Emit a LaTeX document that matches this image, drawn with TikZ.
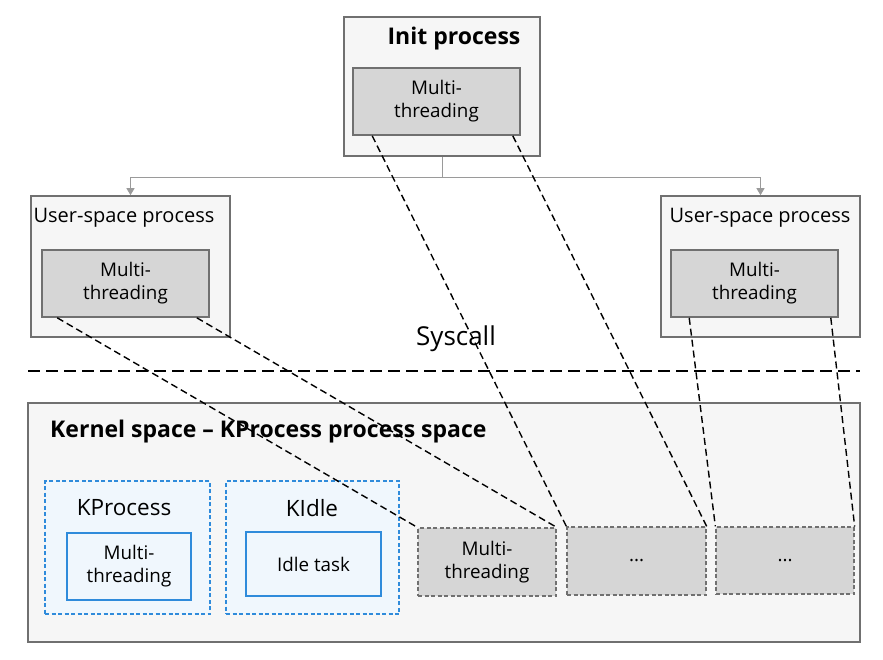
\documentclass[tikz,border=0pt]{standalone}
\usepackage{fontspec}
\setmainfont{Open Sans}
\usetikzlibrary{calc,arrows.meta}
\definecolor{boxfill}{HTML}{F6F6F6}
\definecolor{boxline}{HTML}{707070}
\definecolor{innerfill}{HTML}{D6D6D6}
\definecolor{blueline}{HTML}{2F8BDB}
\definecolor{bluefill}{HTML}{F0F7FD}
\definecolor{connline}{HTML}{9A9A9A}
\tikzset{
  outerbox/.style={draw=boxline, fill=boxfill, line width=1.6pt, inner sep=0pt},
  innerbox/.style={draw=boxline, fill=innerfill, line width=1.6pt, inner sep=0pt, align=center, font=\fontsize{18.8}{23}\selectfont},
  dgraybox/.style={draw=boxline, fill=innerfill, line width=1.3pt, dash pattern=on 4pt off 2.5pt, inner sep=0pt, align=center, font=\fontsize{18.8}{23}\selectfont},
  bluedash/.style={draw=blueline, fill=bluefill, line width=1.3pt, dash pattern=on 4pt off 2.5pt, inner sep=0pt},
  bluebox/.style={draw=blueline, fill=bluefill, line width=1.6pt, inner sep=0pt, align=center, font=\fontsize{18.8}{23}\selectfont},
  titletext/.style={font=\fontsize{20}{24}\selectfont, inner sep=0pt},
  boldtitle/.style={font=\bfseries\fontsize{23}{27}\selectfont, inner sep=0pt},
  thread/.style={draw=black, line width=1.4pt, dash pattern=on 7pt off 4pt},
  conn/.style={draw=connline, line width=1pt, -{Triangle[length=7pt,width=8pt]}},
}
\begin{document}
\begin{tikzpicture}[x=1pt,y=-1pt]
\useasboundingbox (0,0) rectangle (883,660);
% Init process
\node[outerbox, minimum width=196pt, minimum height=139pt] (init) at (442,86.5) {};
\node[boldtitle] (initt) at (454,39) {Init process};
\node[innerbox, minimum width=167pt, minimum height=67pt] (initin) at (436.5,101.5) {Multi-\\threading};
% User-space processes
\node[outerbox, minimum width=199pt, minimum height=141pt] (lu) at (130.5,266.5) {};
\node[titletext] (lut) at (124,218) {User-space process};
\node[innerbox, minimum width=167pt, minimum height=67pt] (luin) at (125.5,283.5) {Multi-\\threading};
\node[outerbox, minimum width=199pt, minimum height=141pt] (ru) at (760.5,266.5) {};
\node[titletext] (rut) at (760,218) {User-space process};
\node[innerbox, minimum width=167pt, minimum height=67pt] (ruin) at (754.5,283.5) {Multi-\\threading};
% connectors from init
\coordinate (split) at (442,178);
\draw[draw=connline, line width=1pt] (init.south) -- (split);
\draw[conn] (split) -| (lu.north);
\draw[conn] (split) -| (ru.north);
% Syscall
\node[font=\fontsize{26}{30}\selectfont, inner sep=0pt] (sys) at (456,339) {Syscall};
\coordinate (sysl) at (28,371);
\coordinate (sysr) at (860,371);
\draw[line width=2.6pt, dash pattern=on 12pt off 6pt] (sysl) -- (sysr);
% Kernel space
\node[outerbox, minimum width=832pt, minimum height=239pt] (kern) at (444,522.5) {};
\node[boldtitle, anchor=west] (kernt) at (50,432) {Kernel space – KProcess process space};
\node[bluedash, minimum width=165pt, minimum height=133pt] (kp) at (127.5,547.5) {};
\node[titletext, font=\fontsize{22.5}{26}\selectfont] (kpt) at (124,508) {KProcess};
\node[bluebox, minimum width=124pt, minimum height=67pt] (kpin) at (129,566.5) {Multi-\\threading};
\node[bluedash, minimum width=173pt, minimum height=133pt] (ki) at (312.5,547.5) {};
\node[titletext, font=\fontsize{22.5}{26}\selectfont] (kit) at (312,508) {KIdle};
\node[bluebox, minimum width=135pt, minimum height=64pt] (kiin) at (313.5,564) {Idle task};
\node[dgraybox, minimum width=138pt, minimum height=68pt] (b1) at (487,562) {Multi-\\threading};
\node[dgraybox, minimum width=139pt, minimum height=68pt] (b2) at (636.5,561) {...};
\node[dgraybox, minimum width=138pt, minimum height=67pt] (b3) at (785,560.5) {...};
% thread mapping lines
\draw[thread] ($(luin.south west)+(16,0)$) -- (b1.north west);
\draw[thread] ($(luin.south east)+(-13,0)$) -- (b1.north east);
\draw[thread] ($(initin.south west)+(20,0)$) -- (b2.north west);
\draw[thread] ($(initin.south east)+(-8,0)$) -- (b2.north east);
\draw[thread] ($(ruin.south west)+(19,0)$) -- (b3.north west);
\draw[thread] ($(ruin.south east)+(-8,0)$) -- (b3.north east);
\end{tikzpicture}
\end{document}
